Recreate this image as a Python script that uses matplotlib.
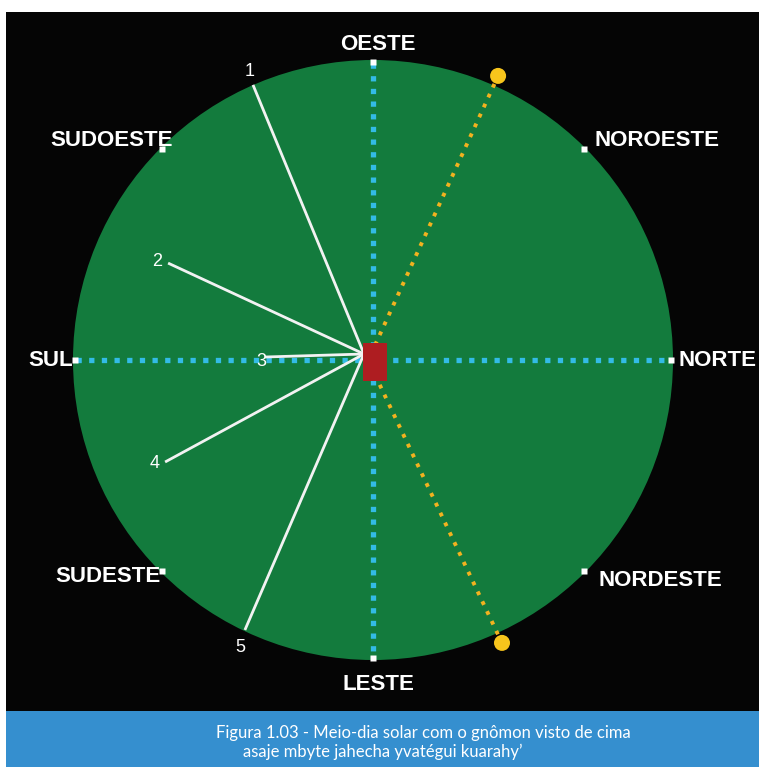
import numpy as np
import matplotlib
matplotlib.use("Agg")
import matplotlib.pyplot as plt
from matplotlib.patches import Circle, Rectangle

# ---- data (unit-circle coordinates: centre = 0,0 ; radius = 1 ; x east->right, y up) ----
directions = ["NORTE", "NOROESTE", "OESTE", "SUDOESTE", "SUL", "SUDESTE", "LESTE", "NORDESTE"]
direction_angles = [0, 45, 90, 135, 180, 225, 270, 315]   # degrees

shadow_labels = ["1", "2", "3", "4", "5"]
shadow_tip_x = [-0.400, -0.683, -0.360, -0.693, -0.427]
shadow_tip_y = [0.917, 0.323, 0.010, -0.340, -0.900]
shadow_origin = (-0.030, 0.020)

sun_x = [0.417, 0.430]
sun_y = [0.947, -0.943]
sun_ray_origin_y = [0.05, -0.05]
sun_ray_origin_x = 0.007

gnomon_xy = (-0.033, -0.070)
gnomon_w, gnomon_h = 0.080, 0.127

caption_lines = ["Figura 1.03 - Meio-dia solar com o gnômon visto de cima",
                 "asaje mbyte jahecha yvatégui kuarahy\u2019"]

# ---- layout ----
W, H = 759, 767
CX, CY, R = 373, 360, 300

def px(x, y):
    x = np.asarray(x, float); y = np.asarray(y, float)
    return CX + x * R, CY - y * R

fig = plt.figure(figsize=(W / 100, H / 100), dpi=100, facecolor="white")
ax = fig.add_axes([0, 0, 1, 1])
ax.set_xlim(0, W)
ax.set_ylim(H, 0)
ax.axis("off")

# black panel and caption band
ax.add_patch(Rectangle((6, 12), W - 6, 699, facecolor="#050505", edgecolor="none", zorder=0))
ax.add_patch(Rectangle((6, 711), W - 6, 56, facecolor="#358fcf", edgecolor="none", zorder=0))

# green disc
ax.add_patch(Circle((CX, CY), R, facecolor="#137b3d", edgecolor="none", zorder=1))

# cyan dotted axes
cyan = "#33bbe6"
dots = (0, (1.0, 1.4))
x0, y0 = px([-0.99, 0.99], [0, 0])
ax.plot(x0, y0, color=cyan, lw=3.8, linestyle=dots, dash_capstyle="butt", zorder=2)
x1, y1 = px([0, 0], [0.99, -0.99])
ax.plot(x1, y1, color=cyan, lw=3.8, linestyle=dots, dash_capstyle="butt", zorder=2)

# sun rays (orange dotted) and suns
for sx, sy, oy in zip(sun_x, sun_y, sun_ray_origin_y):
    xs, ys = px([sun_ray_origin_x, sx], [oy, sy])
    ax.plot(xs, ys, color="#f2b21f", lw=2.8, linestyle=(0, (1.0, 1.8)),
            dash_capstyle="butt", zorder=3)
    cx_, cy_ = px(sx, sy)
    ax.add_patch(Circle((float(cx_), float(cy_)), 8, facecolor="#f7c51c", edgecolor="none", zorder=4))

# shadow lines
for lab, tx, ty in zip(shadow_labels, shadow_tip_x, shadow_tip_y):
    xs, ys = px([shadow_origin[0], tx], [shadow_origin[1], ty])
    ax.plot(xs, ys, color="#f2f2f2", lw=2.0, solid_capstyle="butt", zorder=3)

num_pos = {"1": (250, 72), "2": (157, 261), "3": (261, 361), "4": (155, 463), "5": (240, 647)}
for lab in shadow_labels:
    ax.text(*num_pos[lab], lab, color="white", fontsize=13, family="Liberation Sans",
            ha="center", va="center", zorder=5)

# gnomon
gx, gy = px(gnomon_xy[0], gnomon_xy[1] + gnomon_h)
ax.add_patch(Rectangle((float(gx), float(gy)), gnomon_w * R, gnomon_h * R,
                       facecolor="#ae1d21", edgecolor="none", zorder=5))

# compass markers
for ang in direction_angles:
    a = np.deg2rad(ang)
    mx, my = px(0.993 * np.cos(a), 0.993 * np.sin(a))
    ax.plot(mx, my, marker="s", ms=5, color="white", mec="none", zorder=6)

label_pos = {
    "OESTE": (378, 45, "center"),
    "NOROESTE": (594, 141, "left"),
    "NORTE": (678, 361, "left"),
    "NORDESTE": (598, 581, "left"),
    "LESTE": (378, 684, "center"),
    "SUDESTE": (161, 577, "right"),
    "SUL": (73, 361, "right"),
    "SUDOESTE": (173, 141, "right"),
}
for name in directions:
    x, y, ha = label_pos[name]
    ax.text(x, y, name, color="white", fontsize=16, fontweight="bold",
            family="Liberation Sans", ha=ha, va="center", zorder=5)

# caption
ax.text(423, 733, caption_lines[0], color="white", fontsize=12, family="Lato",
        ha="center", va="center", zorder=5)
ax.text(383, 752, caption_lines[1], color="white", fontsize=12, family="Lato",
        ha="center", va="center", zorder=5)

fig.savefig("out.png", dpi=100, facecolor="white")
